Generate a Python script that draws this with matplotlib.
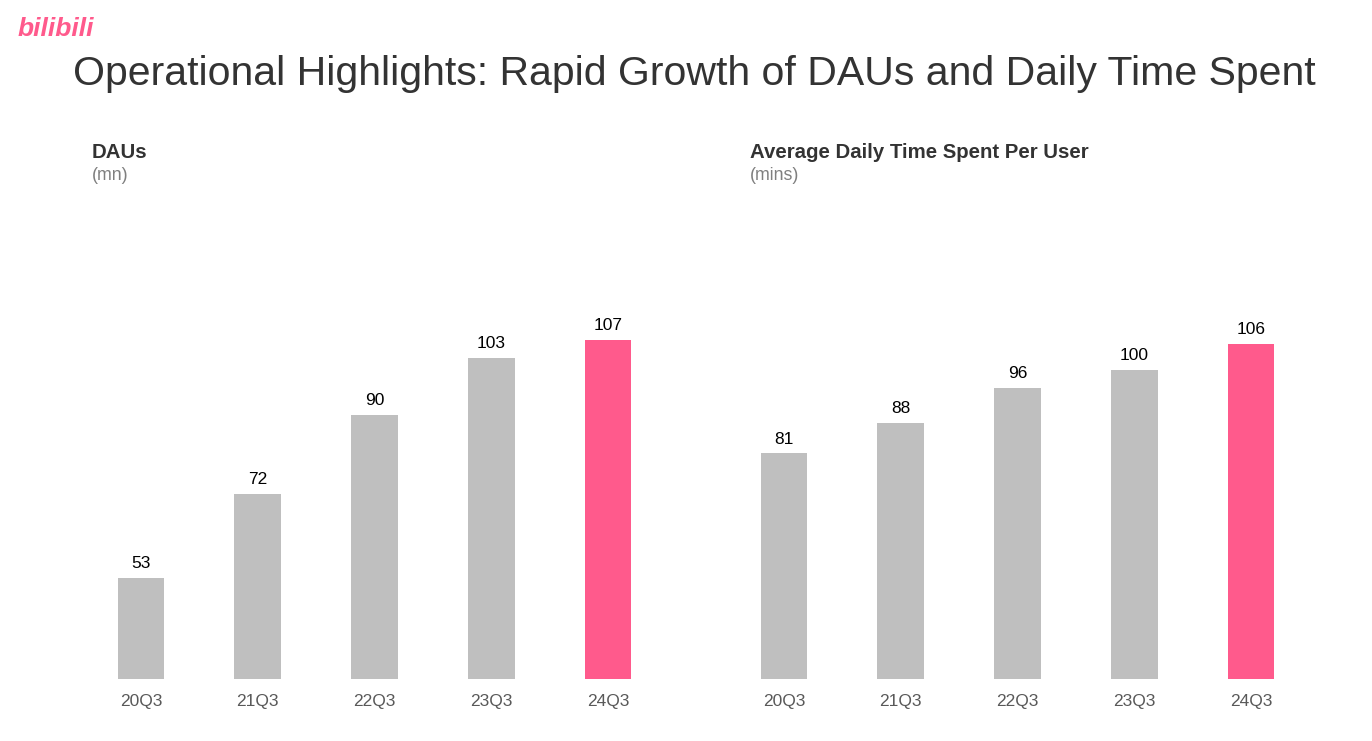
import matplotlib
matplotlib.use("Agg")
import matplotlib.pyplot as plt

plt.rcParams['font.family'] = ['Liberation Sans', 'DejaVu Sans']

categories = ["20Q3", "21Q3", "22Q3", "23Q3", "24Q3"]
dau_values = [53, 72, 90, 103, 107]
time_values = [81, 88, 96, 100, 106]

GREY = "#BFBFBF"
PINK = "#FF5A8C"
W, H = 1372, 741
fig = plt.figure(figsize=(W / 100, H / 100), dpi=100)

def px_axes(x0, x1, ytop, ybot):
    return fig.add_axes([x0 / W, 1 - ybot / H, (x1 - x0) / W, (ybot - ytop) / H])

def draw(ax, vals, ymin, ymax):
    colors = [GREY] * (len(vals) - 1) + [PINK]
    x = range(len(vals))
    ax.bar(x, vals, width=0.4, color=colors)
    ax.set_xlim(-0.5, len(vals) - 0.5)
    ax.set_ylim(ymin, ymax)
    for xi, v in zip(x, vals):
        ax.text(xi, v + (ymax - ymin) * 0.014, str(v), ha='center', va='bottom',
                fontsize=12.5, color='black')
    ax.set_xticks(list(x))
    ax.set_xticklabels(categories, fontsize=12.5, color='#595959')
    ax.tick_params(axis='x', length=0, pad=10.5)
    ax.set_yticks([])
    for s in ax.spines.values():
        s.set_visible(False)
    ax.patch.set_alpha(0)

ax1 = px_axes(82.5, 666.5, 195, 679)
draw(ax1, dau_values, 30, 140)
ax2 = px_axes(725.5, 1309.5, 195, 679)
draw(ax2, time_values, 29.5, 140)

fig.text(18 / W, 1 - 29 / H, "bilibili", fontsize=19, fontweight='bold', color=PINK,
         ha='left', va='center', style='italic')
fig.text(73 / W, 1 - 74 / H, "Operational Highlights: Rapid Growth of DAUs and Daily Time Spent",
         fontsize=29.5, color='#333333', ha='left', va='center')

fig.text(92 / W, 1 - 152 / H, "DAUs", fontsize=14.7, fontweight='bold', color='#333333',
         ha='left', va='center')
fig.text(92 / W, 1 - 175 / H, "(mn)", fontsize=12.8, color='#7F7F7F', ha='left', va='center')
fig.text(750 / W, 1 - 153 / H, "Average Daily Time Spent Per User", fontsize=14.7,
         fontweight='bold', color='#333333', ha='left', va='center')
fig.text(750 / W, 1 - 176 / H, "(mins)", fontsize=12.8, color='#7F7F7F', ha='left', va='center')

fig.savefig("out.png", dpi=100)
